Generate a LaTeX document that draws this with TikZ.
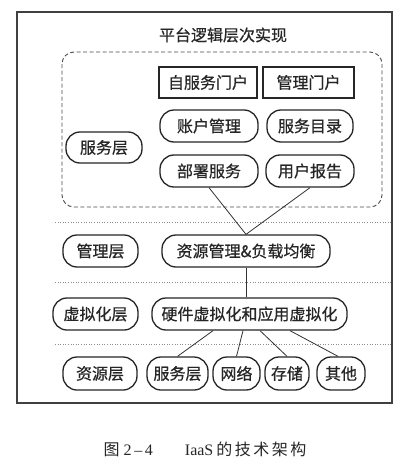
\documentclass[tikz,border=0pt]{standalone}
\usepackage{fontspec}
\setmainfont{Noto Sans CJK SC}
\newfontfamily\cjkheavy{Noto Sans CJK SC}[FakeBold=0.6]
\newfontfamily\latinserif{Liberation Serif}
\begin{document}
\begin{tikzpicture}[x=1pt,y=-1pt,
  txt/.style={font=\cjkheavy\fontsize{16pt}{17pt}\selectfont, text=black!85},
  pill/.style={txt, draw=black!85, line width=1.3pt, rounded corners=14pt, inner sep=0pt, minimum height=32pt},
  sqbox/.style={txt, draw=black!85, line width=1.3pt, inner sep=0pt, minimum height=31pt},
  conn/.style={draw=black!80, line width=0.8pt},
  sep/.style={draw=black!45, line width=0.6pt, dotted},
]
\useasboundingbox (0,0) rectangle (410,460);
\fill[white] (0,0) rectangle (410,460);
% outer frame
\draw[black!75, line width=1.2pt] (17,12) rectangle (392,403);
% title
\node[txt] (title) at (223,35) {平台逻辑层次实现};
% dashed group
\draw[black!70, line width=0.9pt, dashed, dash pattern=on 4pt off 2.5pt, rounded corners=12pt] (62,52) rectangle (382,207);
% service layer
\node[sqbox, minimum width=98pt] (zfw) at (208,82.5) {自服务门户};
\node[sqbox, minimum width=91pt] (glmh) at (308.5,82.5) {管理门户};
\node[pill, minimum width=98pt] (zhgl) at (209,126) {账户管理};
\node[pill, minimum width=86pt] (fwml) at (310,126) {服务目录};
\node[pill, minimum width=76pt, minimum height=31pt] (fwc) at (104,147.5) {服务层};
\node[pill, minimum width=98pt] (bsfw) at (209,171) {部署服务};
\node[pill, minimum width=88pt] (yhbg) at (310,171) {用户报告};
% separators
\coordinate (s1a) at (55,222); \coordinate (s1b) at (392,222);
\coordinate (s2a) at (55,282); \coordinate (s2b) at (392,282);
\coordinate (s3a) at (55,344); \coordinate (s3b) at (392,344);
\draw[sep] (s1a) -- (s1b);
\draw[sep] (s2a) -- (s2b);
\draw[sep] (s3a) -- (s3b);
% management layer
\node[pill, minimum width=75pt] (glc) at (100.5,251) {管理层};
\node[pill, minimum width=168pt] (res) at (246,251) {资源管理\&负载均衡};
% virtualization layer
\node[pill, minimum width=85pt] (xnh) at (95.5,314) {虚拟化层};
\node[pill, minimum width=195pt] (hw) at (249.5,314) {硬件虚拟化和应用虚拟化};
% resource layer
\node[pill, minimum width=74pt, minimum height=33pt] (zyc) at (100,373.5) {资源层};
\node[pill, minimum width=61pt, minimum height=33pt] (fwc2) at (177.5,373.5) {服务层};
\node[pill, minimum width=47pt, minimum height=33pt] (wl) at (236.5,373.5) {网络};
\node[pill, minimum width=44pt, minimum height=33pt] (cc) at (287,373.5) {存储};
\node[pill, minimum width=48pt, minimum height=33pt] (qt) at (341,373.5) {其他};
% connectors
\draw[conn] (bsfw.south) -- (res.north);
\draw[conn] (yhbg.south) -- (res.north);
\draw[conn] (res.south) -- (res.south |- hw.north);
\draw[conn] ([xshift=-36.5pt]hw.south) -- (fwc2.north);
\draw[conn] ([xshift=-6.5pt]hw.south) -- (wl.north);
\draw[conn] ([xshift=10.5pt]hw.south) -- (cc.north);
\draw[conn] ([xshift=40.5pt]hw.south) -- ([xshift=-3pt]qt.north);
% caption
\node[font=\fontsize{16pt}{17pt}\selectfont, text=black!85, inner sep=0pt] (cap) at (205,449)
  {图\hspace{4pt}{\latinserif 2\,–\,4}\hspace{32pt}{\latinserif IaaS}\hspace{3pt}的\hspace{2.5pt}技\hspace{2.5pt}术\hspace{2.5pt}架\hspace{2.5pt}构};
\end{tikzpicture}
\end{document}
